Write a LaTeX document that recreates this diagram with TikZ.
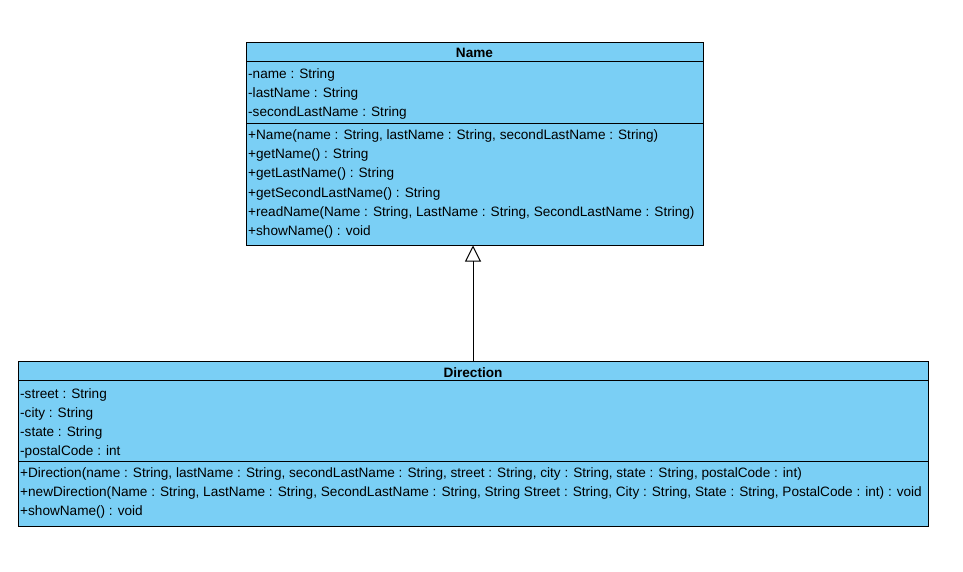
\documentclass[tikz,border=0pt]{standalone}
\usepackage{fontspec}
\setmainfont{Liberation Sans}
\usetikzlibrary{arrows.meta}
\definecolor{umlblue}{RGB}{122,207,245}
\begin{document}
\begin{tikzpicture}[x=1pt,y=-1pt,
  classbox/.style={draw=black,fill=umlblue,line width=1pt,inner sep=0pt,rectangle},
  title/.style={font=\fontsize{13.6}{15}\selectfont\bfseries,inner sep=0pt,anchor=base},
  member/.style={font=\fontsize{13.6}{15}\selectfont,inner sep=0pt,anchor=base west},
  sep/.style={line width=1pt}]
\useasboundingbox (0,0) rectangle (963,572);
% Name class
\node[classbox,minimum width=457pt,minimum height=202pt] (name) at (474.5,144) {};
\draw[sep] (246,62) -- (703,62);
\draw[sep] (246,124) -- (703,124);
\node[title] (nt) at (474.5,58) {Name};
\node[member] (n1) at (248,79) {-name : String};
\node[member] (n2) at (248,98) {-lastName : String};
\node[member] (n3) at (248,117) {-secondLastName : String};
\node[member] (m1) at (248,140) {+Name(name : String, lastName : String, secondLastName : String)};
\node[member] (m2) at (248,159) {+getName() : String};
\node[member] (m3) at (248,178) {+getLastName() : String};
\node[member] (m4) at (248,197) {+getSecondLastName() : String};
\node[member] (m5) at (248,216) {+readName(Name : String, LastName : String, SecondLastName : String)};
\node[member] (m6) at (248,235) {+showName() : void};
% Direction class
\node[classbox,minimum width=910pt,minimum height=165pt] (dir) at (473,443.5) {};
\draw[sep] (18,380) -- (928,380);
\draw[sep] (18,461) -- (928,461);
\node[title] (dt) at (473,377) {Direction};
\node[member] (d1) at (20,398) {-street : String};
\node[member] (d2) at (20,417) {-city : String};
\node[member] (d3) at (20,436) {-state : String};
\node[member] (d4) at (20,455) {-postalCode : int};
\node[member] (e1) at (20,477) {+Direction(name : String, lastName : String, secondLastName : String, street : String, city : String, state : String, postalCode : int)};
\node[member] (e2) at (20,496) {+newDirection(Name : String, LastName : String, SecondLastName : String, String Street : String, City : String, State : String, PostalCode : int) : void};
\node[member] (e3) at (20,515) {+showName() : void};
% generalization
\draw[line width=1pt,-{Triangle[open,length=16pt,width=16pt]}] (dir.north) -- (dir.north |- name.south);
\end{tikzpicture}
\end{document}
